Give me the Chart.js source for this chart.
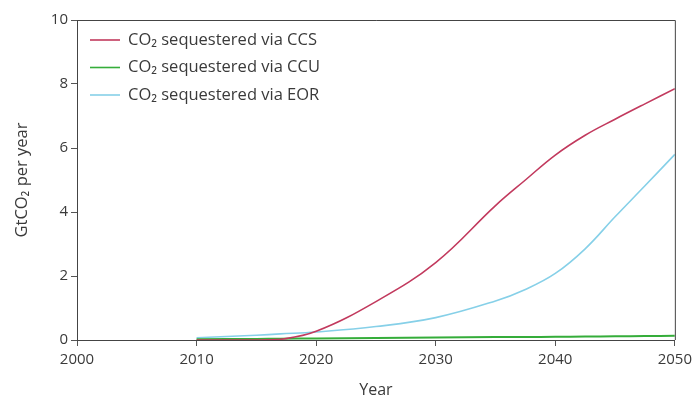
<!DOCTYPE html>
<html><head><meta charset="utf-8">
<script src="https://cdn.jsdelivr.net/npm/chart.js@4"></script>
<style>html,body{margin:0;padding:0;background:#fff}#wrap{width:697px;height:400px}</style>
</head><body><div id="wrap"><canvas id="c" width="697" height="400"></canvas></div>
<script>
const years = [2010, 2015, 2017, 2020, 2025, 2030, 2035, 2037.5, 2040, 2042.5, 2045, 2047.5, 2050];
const ccs = [0, 0.0, 0.02, 0.27, 1.2, 2.42, 4.2, 5.0, 5.78, 6.4, 6.9, 7.38, 7.85];
const ccu = [0.02, 0.035, 0.04, 0.05, 0.065, 0.08, 0.09, 0.095, 0.1, 0.108, 0.115, 0.122, 0.13];
const eor = [0.07, 0.15, 0.19, 0.25, 0.42, 0.7, 1.22, 1.58, 2.08, 2.85, 3.85, 4.82, 5.8];
const xTicks = [2000, 2010, 2020, 2030, 2040, 2050];
const yTicks = [0, 2, 4, 6, 8, 10];
const labels = ['CO\u2082 sequestered via CCS', 'CO\u2082 sequestered via CCU', 'CO\u2082 sequestered via EOR'];
const colors = ['#c23a5e', '#35ad3a', '#86d0e8'];

const FONT = 'Open Sans';
const pts = arr => years.map((y, i) => ({x: y, y: arr[i]}));

const legendInside = {
  id: 'legendInside',
  afterDraw(chart) {
    const ctx = chart.ctx, a = chart.chartArea;
    ctx.save();
    ctx.font = '16.5px "' + FONT + '"';
    ctx.textBaseline = 'middle';
    chart.data.datasets.forEach((ds, i) => {
      const y = a.top + 20 + i * 27.5;
      ctx.strokeStyle = ds.borderColor; ctx.lineWidth = 1.6;
      ctx.beginPath(); ctx.moveTo(a.left + 13, y); ctx.lineTo(a.left + 43, y); ctx.stroke();
      ctx.fillStyle = '#3a3a3a';
      ctx.fillText(ds.label, a.left + 51, y);
    });
    ctx.strokeStyle = '#444'; ctx.lineWidth = 1;
    ctx.beginPath();
    ctx.moveTo(a.left, a.top + 0.5); ctx.lineTo(a.right + 0.5, a.top + 0.5); ctx.lineTo(a.right + 0.5, a.bottom);
    ctx.stroke();
    ctx.restore();
  }
};

new Chart(document.getElementById('c'), {
  type: 'line',
  data: {
    datasets: [
      {label: labels[0], data: pts(ccs), borderColor: colors[0], borderWidth: 1.6},
      {label: labels[1], data: pts(ccu), borderColor: colors[1], borderWidth: 2},
      {label: labels[2], data: pts(eor), borderColor: colors[2], borderWidth: 1.6}
    ].map(d => Object.assign(d, {pointRadius: 0, fill: false, tension: 0.4}))
  },
  options: {
    responsive: false,
    animation: false,
    layout: {padding: {top: 20, right: 21, left: 12, bottom: 0}},
    plugins: {legend: {display: false}, tooltip: {enabled: false}},
    scales: {
      x: {
        type: 'linear', min: 2000, max: 2050,
        afterBuildTicks: s => { s.ticks = xTicks.map(v => ({value: v})); },
        afterFit: s => { s.height = 60; },
        ticks: {color: '#3a3a3a', font: {family: FONT, size: 15}, padding: 5, callback: v => String(v)},
        grid: {drawOnChartArea: false, drawTicks: true, tickLength: 6, color: '#555'},
        border: {color: '#444', width: 1},
        title: {display: true, text: 'Year', color: '#3a3a3a', font: {family: FONT, size: 16}, padding: {top: 0, bottom: 0}}
      },
      y: {
        min: 0, max: 10,
        afterBuildTicks: s => { s.ticks = yTicks.map(v => ({value: v})); },
        afterFit: s => { s.width = 65; },
        ticks: {color: '#3a3a3a', font: {family: FONT, size: 15}, padding: 3},
        grid: {drawOnChartArea: false, drawTicks: true, tickLength: 6, color: '#555'},
        border: {color: '#444', width: 1},
        title: {display: true, text: 'GtCO\u2082 per year', color: '#3a3a3a', font: {family: FONT, size: 16.5}, padding: {top: 0, bottom: 8}}
      }
    }
  },
  plugins: [legendInside]
});
</script></body></html>
